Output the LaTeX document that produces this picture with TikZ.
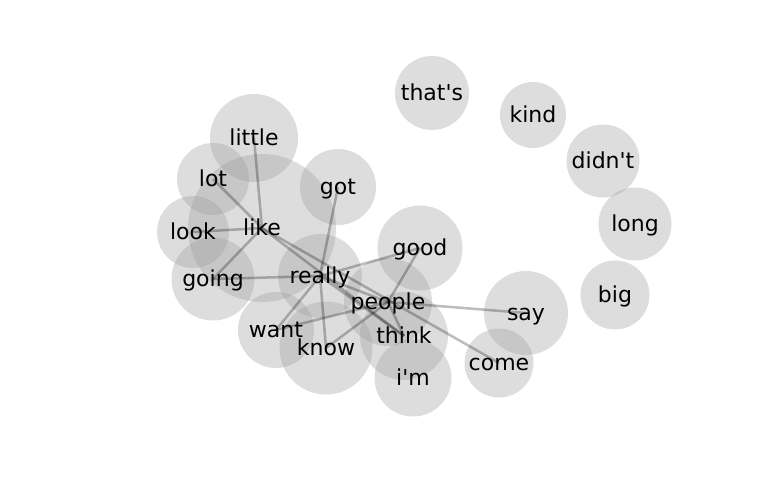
\documentclass[tikz,border=0pt]{standalone}
\usepackage{fontspec}
\setsansfont{DejaVu Sans}
\pgfdeclarelayer{bubbles}
\pgfdeclarelayer{links}
\pgfsetlayers{bubbles,links,main}
\tikzset{
	word/.style={font=\sffamily\fontsize{16.5}{17}\selectfont, text=black, inner sep=0pt, text height=1.05em, text depth=0pt},
	bubble/.style={fill=black!40, fill opacity=0.33, draw=none},
	link/.style={draw=black, draw opacity=0.26, line width=1.9pt},
}

\begin{document}
\begin{tikzpicture}[x=0.75pt, y=-0.75pt]
		\useasboundingbox (0,0) rectangle (768,500);
		% words
		\node[word] (like) at (262,228) {like};
		\node[word] (little) at (254,138) {little};
		\node[word] (lot) at (213,179) {lot};
		\node[word] (look) at (193,232) {look};
		\node[word] (going) at (213,279) {going};
		\node[word] (got) at (338,187) {got};
		\node[word] (really) at (320,276) {really};
		\node[word] (want) at (276,330) {want};
		\node[word] (know) at (326,348) {know};
		\node[word] (people) at (388,302) {people};
		\node[word] (think) at (404,336) {think};
		\node[word] (im) at (413,378) {i\textquotesingle m};
		\node[word] (good) at (420,248) {good};
		\node[word] (thats) at (432,93) {that\textquotesingle s};
		\node[word] (kind) at (533,115) {kind};
		\node[word] (didnt) at (603,161) {didn\textquotesingle t};
		\node[word] (long) at (635,224) {long};
		\node[word] (big) at (615,295) {big};
		\node[word] (say) at (526,313) {say};
		\node[word] (come) at (499,363) {come};
		% bubbles
		\begin{pgfonlayer}{bubbles}
			\fill[bubble] (like) circle[radius=74];
			\fill[bubble] (little) circle[radius=44];
			\fill[bubble] (lot) circle[radius=36];
			\fill[bubble] (look) circle[radius=36];
			\fill[bubble] (going) circle[radius=41.5];
			\fill[bubble] (got) circle[radius=38];
			\fill[bubble] (really) circle[radius=42];
			\fill[bubble] (want) circle[radius=38];
			\fill[bubble] (know) circle[radius=46.5];
			\fill[bubble] (people) circle[radius=44];
			\fill[bubble] (think) circle[radius=44];
			\fill[bubble] (im) circle[radius=38.5];
			\fill[bubble] (good) circle[radius=42.5];
			\fill[bubble] (thats) circle[radius=37];
			\fill[bubble] (kind) circle[radius=33];
			\fill[bubble] (didnt) circle[radius=36.5];
			\fill[bubble] (long) circle[radius=36.5];
			\fill[bubble] (big) circle[radius=34.5];
			\fill[bubble] (say) circle[radius=42];
			\fill[bubble] (come) circle[radius=34.5];
		\end{pgfonlayer}
		% co-occurrence links
		\begin{pgfonlayer}{links}
			\draw[link] (like.center) -- (little.center);
			\draw[link] (like.center) -- (lot.center);
			\draw[link] (like.center) -- (look.center);
			\draw[link] (like.center) -- (going.center);
			\draw[link] (like.center) -- (think.center);
			\draw[link] (like.center) -- (come.center);
			\draw[link] (really.center) -- (got.center);
			\draw[link] (really.center) -- (going.center);
			\draw[link] (really.center) -- (good.center);
			\draw[link] (really.center) -- (people.center);
			\draw[link] (really.center) -- (want.center);
			\draw[link] (really.center) -- (know.center);
			\draw[link] (really.center) -- (think.center);
			\draw[link] (people.center) -- (good.center);
			\draw[link] (people.center) -- (want.center);
			\draw[link] (people.center) -- (know.center);
			\draw[link] (people.center) -- (say.center);
			\draw[link] (people.center) -- (think.center);
		\end{pgfonlayer}
	\end{tikzpicture}
\end{document}
